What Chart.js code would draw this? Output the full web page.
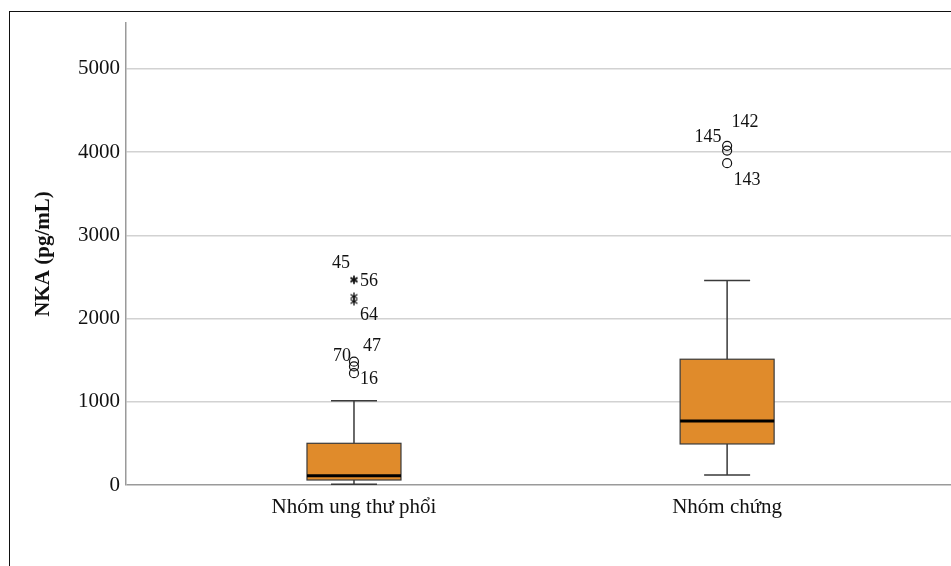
<!DOCTYPE html>
<html>
<head>
<meta charset="utf-8">
<script src="https://cdn.jsdelivr.net/npm/chart.js@4.4.0/dist/chart.umd.min.js"></script>
<style>
  html, body { margin: 0; padding: 0; background: #fff; }
  #wrap { position: relative; width: 951px; height: 566px; overflow: hidden; }
  #frame { position: absolute; left: 9px; top: 11px; width: 960px; height: 600px;
           border-left: 1px solid #111; border-top: 1px solid #111; pointer-events: none; }
</style>
</head>
<body>
<div id="wrap">
  <canvas id="c" width="951" height="566"></canvas>
  <div id="frame"></div>
</div>
<script>
// Nhóm (trục x)
const groups = ['Nhóm ung thư phổi', 'Nhóm chứng'];

// Số liệu hộp: râu dưới, Q1, trung vị, Q3, râu trên
const whiskerLow = [10, 120];
const q1 = [60, 493];
const median = [112, 769];
const q3 = [501, 1511];
const whiskerHigh = [1013, 2456];

// Ngoại lai (vòng tròn) và cực trị (dấu sao)
const outlierGroup = [0, 0, 0, 1, 1, 1];
const outlierValue = [1482, 1425, 1343, 4075, 4018, 3866];
const outlierId = ['70', '47', '16', '142', '145', '143'];

const extremeGroup = [0, 0, 0, 0];
const extremeValue = [2470, 2460, 2265, 2205];
const extremeId = ['45', '56', '', '64'];

const yTicks = [0, 1000, 2000, 3000, 4000, 5000];

// vị trí nhãn số thứ tự so với điểm (px)
const labelOffset = {
  '70': [-12, -5], '47': [18, -20], '16': [15, 6],
  '142': [18, -24], '145': [-19, -13], '143': [20, 17],
  '45': [-13, -16], '56': [15, 1], '64': [15, 14]
};

// dấu sao 6 cánh kiểu SPSS
function makeAsterisk() {
  const cv = document.createElement('canvas');
  cv.width = 10; cv.height = 10;
  const g = cv.getContext('2d');
  g.strokeStyle = '#111';
  g.lineWidth = 1.3;
  g.beginPath();
  [90, 30, 150].forEach(a => {
    const r = a * Math.PI / 180;
    const dx = Math.cos(r) * 4, dy = Math.sin(r) * 4;
    g.moveTo(5 - dx, 5 - dy); g.lineTo(5 + dx, 5 + dy);
  });
  g.stroke();
  return cv;
}

const boxPlugin = {
  id: 'boxes',
  beforeDatasetsDraw(chart) {
    const {ctx, scales: {x, y}} = chart;
    ctx.save();
    groups.forEach((g, i) => {
      const cx = x.getPixelForValue(i);
      const halfBox = 47, halfCap = 23;
      const yq1 = y.getPixelForValue(q1[i]);
      const yq3 = y.getPixelForValue(q3[i]);
      const ymed = y.getPixelForValue(median[i]);
      const ylo = y.getPixelForValue(whiskerLow[i]);
      const yhi = y.getPixelForValue(whiskerHigh[i]);

      ctx.strokeStyle = '#3a3a3a';
      ctx.lineWidth = 1.5;
      ctx.beginPath();
      ctx.moveTo(cx, yq3); ctx.lineTo(cx, yhi);
      ctx.moveTo(cx - halfCap, yhi); ctx.lineTo(cx + halfCap, yhi);
      ctx.moveTo(cx, yq1); ctx.lineTo(cx, ylo);
      ctx.moveTo(cx - halfCap, ylo); ctx.lineTo(cx + halfCap, ylo);
      ctx.stroke();

      ctx.fillStyle = '#e08b2b';
      ctx.fillRect(cx - halfBox, yq3, halfBox * 2, yq1 - yq3);
      ctx.lineWidth = 1.2;
      ctx.strokeStyle = '#3a3a3a';
      ctx.strokeRect(cx - halfBox, yq3, halfBox * 2, yq1 - yq3);

      ctx.strokeStyle = '#000';
      ctx.lineWidth = 3;
      ctx.beginPath();
      ctx.moveTo(cx - halfBox, ymed); ctx.lineTo(cx + halfBox, ymed);
      ctx.stroke();
    });
    ctx.restore();
  },
  afterDatasetsDraw(chart) {
    const {ctx} = chart;
    ctx.save();
    ctx.font = '18px "Liberation Serif"';
    ctx.fillStyle = '#111';
    ctx.textAlign = 'center';
    ctx.textBaseline = 'middle';
    chart.data.datasets.forEach((ds, di) => {
      const meta = chart.getDatasetMeta(di);
      meta.data.forEach((pt, j) => {
        const id = ds.ids[j];
        if (!id) return;
        const off = labelOffset[id] || [12, 0];
        ctx.fillText(id, pt.x + off[0], pt.y + off[1]);
      });
    });
    ctx.restore();
  }
};

new Chart(document.getElementById('c'), {
  type: 'scatter',
  data: {
    datasets: [
      {
        label: 'Ngoại lai',
        data: outlierValue.map((v, i) => ({x: outlierGroup[i], y: v})),
        ids: outlierId,
        pointStyle: 'circle',
        pointRadius: 4.5,
        borderColor: '#111',
        borderWidth: 1.2,
        backgroundColor: 'rgba(255,255,255,0)'
      },
      {
        label: 'Cực trị',
        data: extremeValue.map((v, i) => ({x: extremeGroup[i], y: v})),
        ids: extremeId,
        pointStyle: makeAsterisk(),
        pointRadius: 5
      }
    ]
  },
  options: {
    responsive: false,
    animation: false,
    layout: { autoPadding: false, padding: { top: 23, right: 0, bottom: 0, left: 0 } },
    plugins: { legend: { display: false }, tooltip: { enabled: false } },
    scales: {
      x: {
        type: 'linear',
        min: -0.611,
        max: 1.6,
        afterBuildTicks: s => { s.ticks = groups.map((g, i) => ({value: i})); },
        afterFit: s => { s.height = 81; s.paddingLeft = 0; s.paddingRight = 0; },
        grid: { display: false },
        border: { display: false },
        ticks: {
          callback: v => groups[v],
          font: { family: 'Liberation Serif', size: 21 },
          color: '#111',
          padding: 2,
          maxRotation: 0
        }
      },
      y: {
        min: 0,
        max: 5550,
        afterBuildTicks: s => { s.ticks = yTicks.map(v => ({value: v})); },
        afterFit: s => { s.width = 126; },
        grid: {
          drawTicks: false,
          color: c => c.tick.value === 0 ? '#9a9a9a' : '#d2d2d2',
          lineWidth: 1.5
        },
        border: { display: true, color: '#9a9a9a', width: 1.5 },
        ticks: {
          callback: v => String(v),
          font: { family: 'Liberation Serif', size: 21 },
          color: '#111',
          padding: 6
        },
        title: {
          display: true,
          text: 'NKA (pg/mL)',
          font: { family: 'Liberation Serif', size: 21, weight: 'bold' },
          color: '#111',
          padding: { top: 31, bottom: 0 }
        }
      }
    }
  },
  plugins: [boxPlugin]
});
</script>
</body>
</html>
